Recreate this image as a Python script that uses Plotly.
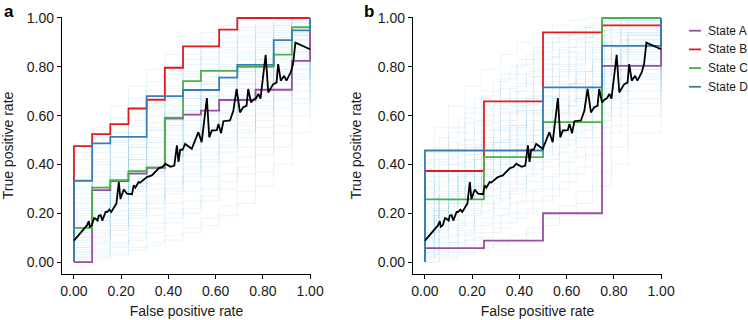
import plotly.graph_objects as go

# ---------------- data ----------------
tick_vals = [0.0, 0.2, 0.4, 0.6, 0.8, 1.0]
tick_text = ["0.00", "0.20", "0.40", "0.60", "0.80", "1.00"]
state_names = ["State A", "State B", "State C", "State D"]
state_colors = ["#984EA3", "#E41A1C", "#4DAF4A", "#377EB8"]

# panel a state ROC steps
a_A_x = [0, 0.077, 0.154, 0.231, 0.308, 0.385, 0.462, 0.538, 0.615, 0.769, 0.923, 1.0]
a_A_y = [0, 0.295, 0.332, 0.362, 0.386, 0.588, 0.604, 0.620, 0.664, 0.706, 0.824, 1.0]
a_B_x = [0, 0, 0.077, 0.154, 0.231, 0.308, 0.385, 0.462, 0.615, 0.692, 1.0]
a_B_y = [0, 0.475, 0.524, 0.565, 0.629, 0.665, 0.796, 0.884, 0.952, 1.0, 1.0]
a_C_x = [0, 0, 0.077, 0.154, 0.231, 0.308, 0.385, 0.462, 0.538, 0.692, 0.846, 0.923, 1.0]
a_C_y = [0, 0.140, 0.305, 0.336, 0.372, 0.388, 0.592, 0.741, 0.783, 0.800, 0.850, 0.962, 1.0]
a_D_x = [0, 0, 0.077, 0.154, 0.308, 0.462, 0.615, 0.692, 0.846, 0.923, 1.0]
a_D_y = [0, 0.333, 0.486, 0.513, 0.680, 0.705, 0.756, 0.808, 0.909, 0.949, 1.0]

# panel b state ROC steps
b_A_x = [0, 0, 0.25, 0.5, 0.75, 1.0]
b_A_y = [0, 0.057, 0.088, 0.200, 0.804, 1.0]
b_B_x = [0, 0, 0.25, 0.5, 0.75, 1.0]
b_B_y = [0, 0.373, 0.658, 0.941, 0.970, 1.0]
b_C_x = [0, 0, 0.25, 0.5, 0.75, 1.0]
b_C_y = [0, 0.257, 0.430, 0.573, 1.0, 1.0]
b_D_x = [0, 0, 0.5, 0.75, 1.0]
b_D_y = [0, 0.457, 0.716, 0.886, 1.0]

# mean (black) curve, same in both panels
mean_x = [0, 0.02, 0.045, 0.055, 0.063, 0.067, 0.075, 0.085, 0.091, 0.1, 0.105, 0.113, 0.12,
          0.134, 0.14, 0.15, 0.158, 0.17, 0.18, 0.19, 0.197, 0.211, 0.225, 0.246, 0.253, 0.26,
          0.274, 0.28, 0.295, 0.309, 0.33, 0.345, 0.36, 0.375, 0.387, 0.395, 0.41, 0.425,
          0.436, 0.443, 0.45, 0.46, 0.471, 0.499, 0.527, 0.541, 0.563, 0.573, 0.584, 0.605,
          0.612, 0.623, 0.633, 0.661, 0.675, 0.689, 0.703, 0.717, 0.731, 0.738, 0.75, 0.76,
          0.772, 0.781, 0.79, 0.812, 0.823, 0.844, 0.858, 0.865, 0.876, 0.89, 0.9, 0.918,
          0.928, 0.938, 1.0]
mean_y = [0.088, 0.11, 0.14, 0.15, 0.168, 0.145, 0.15, 0.18, 0.178, 0.17, 0.19, 0.192, 0.17,
          0.205, 0.205, 0.215, 0.205, 0.222, 0.24, 0.328, 0.258, 0.297, 0.28, 0.278, 0.314, 0.305,
          0.328, 0.325, 0.335, 0.348, 0.355, 0.369, 0.385, 0.39, 0.403, 0.398, 0.39, 0.395,
          0.478, 0.41, 0.46, 0.46, 0.484, 0.464, 0.532, 0.491, 0.672, 0.511, 0.539, 0.54,
          0.566, 0.528, 0.577, 0.58, 0.62, 0.709, 0.613, 0.634, 0.64, 0.709, 0.654, 0.665,
          0.672, 0.689, 0.67, 0.849, 0.695, 0.729, 0.735, 0.811, 0.743, 0.763, 0.743, 0.777,
          0.811, 0.899, 0.872]

# faint background ROC curves (levels at each step)
bg_a_x = [0, 0.077, 0.154, 0.231, 0.308, 0.385, 0.462, 0.538, 0.615, 0.692, 0.769, 0.846, 0.923]
bg_b_x1 = [0, 0.06, 0.14, 0.21, 0.29, 0.36, 0.43, 0.5, 0.57, 0.64, 0.71, 0.79, 0.86]
bg_b_x2 = [0, 0.04, 0.1, 0.17, 0.24, 0.32, 0.39, 0.46, 0.54, 0.61, 0.68, 0.76, 0.83]
bg_levels = [
    [0.00, 0.02, 0.04, 0.06, 0.08, 0.11, 0.14, 0.18, 0.23, 0.29, 0.37, 0.47, 0.60],
    [0.02, 0.05, 0.08, 0.12, 0.16, 0.20, 0.25, 0.30, 0.36, 0.43, 0.51, 0.60, 0.70],
    [0.04, 0.08, 0.13, 0.18, 0.22, 0.28, 0.33, 0.39, 0.45, 0.51, 0.58, 0.66, 0.75],
    [0.06, 0.12, 0.17, 0.22, 0.27, 0.33, 0.39, 0.45, 0.51, 0.57, 0.64, 0.71, 0.79],
    [0.08, 0.15, 0.21, 0.27, 0.32, 0.38, 0.44, 0.50, 0.56, 0.62, 0.68, 0.75, 0.83],
    [0.10, 0.18, 0.24, 0.30, 0.36, 0.42, 0.48, 0.54, 0.60, 0.66, 0.72, 0.78, 0.86],
    [0.12, 0.20, 0.27, 0.34, 0.40, 0.46, 0.52, 0.58, 0.64, 0.70, 0.76, 0.82, 0.88],
    [0.14, 0.22, 0.30, 0.37, 0.43, 0.50, 0.56, 0.62, 0.68, 0.73, 0.79, 0.85, 0.91],
    [0.17, 0.25, 0.33, 0.40, 0.47, 0.54, 0.60, 0.66, 0.72, 0.77, 0.82, 0.87, 0.93],
    [0.20, 0.29, 0.37, 0.44, 0.51, 0.58, 0.64, 0.70, 0.76, 0.81, 0.86, 0.90, 0.95],
    [0.24, 0.33, 0.41, 0.48, 0.55, 0.62, 0.68, 0.74, 0.80, 0.85, 0.89, 0.93, 0.96],
    [0.28, 0.37, 0.45, 0.53, 0.60, 0.67, 0.73, 0.79, 0.84, 0.88, 0.92, 0.95, 0.98],
    [0.33, 0.42, 0.50, 0.58, 0.65, 0.72, 0.78, 0.84, 0.88, 0.92, 0.95, 0.97, 0.99],
    [0.38, 0.47, 0.55, 0.63, 0.70, 0.77, 0.83, 0.88, 0.92, 0.95, 0.97, 0.99, 1.00],
    [0.05, 0.10, 0.15, 0.20, 0.25, 0.30, 0.36, 0.42, 0.48, 0.54, 0.61, 0.68, 0.77],
    [0.09, 0.16, 0.23, 0.29, 0.35, 0.40, 0.46, 0.52, 0.58, 0.64, 0.70, 0.77, 0.84],
    [0.15, 0.24, 0.31, 0.38, 0.45, 0.52, 0.58, 0.64, 0.70, 0.75, 0.80, 0.86, 0.91],
    [0.01, 0.03, 0.06, 0.09, 0.12, 0.16, 0.20, 0.25, 0.30, 0.36, 0.44, 0.53, 0.65],
    [0.21, 0.31, 0.39, 0.47, 0.54, 0.61, 0.67, 0.73, 0.78, 0.83, 0.87, 0.91, 0.94],
    [0.11, 0.19, 0.26, 0.32, 0.38, 0.44, 0.50, 0.56, 0.62, 0.68, 0.74, 0.80, 0.87],
    [0.03, 0.07, 0.11, 0.15, 0.19, 0.24, 0.29, 0.35, 0.41, 0.47, 0.55, 0.63, 0.73],
    [0.07, 0.13, 0.19, 0.24, 0.30, 0.35, 0.41, 0.47, 0.53, 0.60, 0.66, 0.73, 0.81],
    [0.13, 0.21, 0.28, 0.35, 0.41, 0.48, 0.54, 0.60, 0.66, 0.71, 0.77, 0.83, 0.89],
    [0.16, 0.26, 0.34, 0.42, 0.49, 0.56, 0.62, 0.68, 0.74, 0.79, 0.84, 0.89, 0.94],
    [0.19, 0.28, 0.36, 0.43, 0.50, 0.56, 0.62, 0.68, 0.73, 0.78, 0.83, 0.88, 0.93],
    [0.26, 0.35, 0.43, 0.50, 0.57, 0.64, 0.70, 0.76, 0.81, 0.86, 0.90, 0.94, 0.97],
    [0.30, 0.40, 0.48, 0.56, 0.63, 0.70, 0.76, 0.81, 0.86, 0.90, 0.93, 0.96, 0.98],
    [0.35, 0.45, 0.53, 0.61, 0.68, 0.75, 0.81, 0.86, 0.90, 0.93, 0.96, 0.98, 0.99],
    [0.42, 0.51, 0.59, 0.67, 0.74, 0.80, 0.85, 0.90, 0.93, 0.96, 0.98, 0.99, 1.00],
    [0.45, 0.55, 0.64, 0.72, 0.79, 0.85, 0.90, 0.94, 0.97, 0.99, 1.00, 1.00, 1.00],
    [0.00, 0.01, 0.03, 0.05, 0.07, 0.09, 0.12, 0.15, 0.19, 0.24, 0.31, 0.40, 0.53],
    [0.04, 0.09, 0.14, 0.19, 0.24, 0.29, 0.35, 0.41, 0.47, 0.53, 0.60, 0.67, 0.76],
    [0.09, 0.17, 0.24, 0.31, 0.37, 0.43, 0.49, 0.55, 0.61, 0.67, 0.73, 0.79, 0.86],
    [0.12, 0.21, 0.29, 0.36, 0.42, 0.49, 0.55, 0.61, 0.67, 0.73, 0.78, 0.84, 0.90],
    [0.18, 0.27, 0.35, 0.42, 0.49, 0.55, 0.61, 0.67, 0.73, 0.78, 0.83, 0.88, 0.93],
    [0.22, 0.32, 0.40, 0.47, 0.54, 0.61, 0.67, 0.73, 0.79, 0.84, 0.88, 0.92, 0.96],
    [0.06, 0.11, 0.16, 0.21, 0.26, 0.32, 0.38, 0.44, 0.50, 0.56, 0.63, 0.70, 0.79],
    [0.10, 0.17, 0.25, 0.31, 0.37, 0.43, 0.49, 0.55, 0.61, 0.67, 0.73, 0.79, 0.85],
    [0.02, 0.04, 0.07, 0.10, 0.14, 0.18, 0.22, 0.27, 0.33, 0.39, 0.47, 0.56, 0.67],
    [0.31, 0.41, 0.49, 0.57, 0.64, 0.71, 0.77, 0.83, 0.87, 0.91, 0.94, 0.97, 0.99],
]

# ---------------- figure ----------------
FONT = "Liberation Sans, Arial, Helvetica, sans-serif"
TXT = "#1a1a1a"
W, H = 748, 320
fig = go.Figure()


def bg_trace(grids, xa, ya):
    xs, ys = [], []
    for i, lev in enumerate(bg_levels):
        grid = grids[i % len(grids)]
        xs += [0] + list(grid) + [1.0, None]
        ys += [0] + list(lev) + [1.0, None]
    return go.Scatter(x=xs, y=ys, mode="lines",
                      line=dict(color="rgba(100,185,228,0.20)", width=0.7, shape="hv"),
                      xaxis=xa, yaxis=ya, showlegend=False, hoverinfo="skip", connectgaps=False)


panels = [
    ("x", "y", [bg_a_x], [(a_A_x, a_A_y), (a_B_x, a_B_y), (a_C_x, a_C_y), (a_D_x, a_D_y)]),
    ("x2", "y2", [bg_b_x1, bg_b_x2], [(b_A_x, b_A_y), (b_B_x, b_B_y), (b_C_x, b_C_y), (b_D_x, b_D_y)]),
]
for xa, ya, grids, states in panels:
    fig.add_trace(bg_trace(grids, xa, ya))
    for (sx, sy), name, col in zip(states, state_names, state_colors):
        fig.add_trace(go.Scatter(x=sx, y=sy, mode="lines", name=name,
                                 line=dict(color=col, width=1.8, shape="hv"),
                                 xaxis=xa, yaxis=ya, showlegend=False))
    fig.add_trace(go.Scatter(x=mean_x, y=mean_y, mode="lines", line=dict(color="black", width=1.8),
                             xaxis=xa, yaxis=ya, showlegend=False))


def px_x(p):
    return p / W


def px_y(p):
    return 1 - p / H


axis_common = dict(range=[-0.0506, 1.004], tickvals=tick_vals, ticktext=tick_text,
                   showline=True, linecolor="black", linewidth=1.3, ticks="outside",
                   ticklen=4, tickwidth=1.2, tickcolor="black", showgrid=False, zeroline=False,
                   tickfont=dict(family=FONT, size=14, color=TXT), mirror=False, automargin=False)
yaxis_common = dict(axis_common, range=[-0.049, 1.004])
title_font = dict(family=FONT, size=14, color=TXT)

fig.update_layout(
    template="none",
    width=W, height=H, margin=dict(l=0, r=0, t=0, b=0),
    paper_bgcolor="white", plot_bgcolor="white",
    xaxis=dict(axis_common, domain=[px_x(62), px_x(311)], anchor="y",
               title=dict(text="False positive rate", font=title_font, standoff=8)),
    yaxis=dict(yaxis_common, domain=[px_y(274), px_y(17)], anchor="x",
               title=dict(text="True positive rate", font=title_font, standoff=12)),
    xaxis2=dict(axis_common, domain=[px_x(413), px_x(662)], anchor="y2",
                title=dict(text="False positive rate", font=title_font, standoff=8)),
    yaxis2=dict(yaxis_common, domain=[px_y(274), px_y(17)], anchor="x2",
                title=dict(text="True positive rate", font=title_font, standoff=12)),
    showlegend=False,
)

# panel letters
for letter, xp in [("a", 2), ("b", 362)]:
    fig.add_annotation(x=px_x(xp), y=px_y(0), xref="paper", yref="paper", text="<b>%s</b>" % letter,
                       showarrow=False, xanchor="left", yanchor="top",
                       font=dict(family=FONT, size=17, color="black"))

# manual legend
for i, (name, col) in enumerate(zip(state_names, state_colors)):
    yy = 30.7 + i * 18.7
    fig.add_shape(type="line", xref="paper", yref="paper", x0=px_x(689), x1=px_x(701),
                  y0=px_y(yy), y1=px_y(yy), line=dict(color=col, width=1.8))
    fig.add_annotation(x=px_x(706), y=px_y(yy), xref="paper", yref="paper", text=name,
                       showarrow=False, xanchor="left", yanchor="middle",
                       font=dict(family=FONT, size=12, color=TXT))

fig.write_html("out.html", config={"displayModeBar": False},
               post_script="document.body.style.margin='0';document.body.style.overflow='hidden';")
